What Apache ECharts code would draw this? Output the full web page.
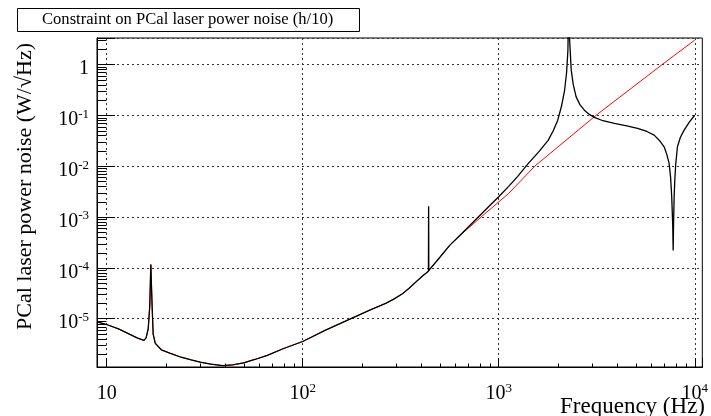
<!DOCTYPE html>
<html>
<head>
<meta charset="utf-8">
<script src="https://cdn.jsdelivr.net/npm/echarts@6/dist/echarts.min.js"></script>
<style>
html,body{margin:0;padding:0;background:#fff}
#chart{width:711px;height:416px}
</style>
</head>
<body>
<div id="chart"></div>
<script>
// frequency (Hz) / amplitude (W/sqrt(Hz))
var blackFreq = [8.93, 10, 11.5, 12.9, 14.3, 15.5, 15.9, 16.3, 16.6, 16.8, 17.06, 17.27, 17.7, 19, 21, 24, 27, 30, 34, 39, 44, 50, 57, 66, 80, 100, 130, 174, 220, 265, 290, 323, 350, 378, 410, 438, 439, 440, 500, 562, 650, 787, 885, 1000, 1124, 1250, 1413, 1600, 1787, 1900, 2000, 2090, 2168, 2220, 2254, 2280, 2300, 2344, 2400, 2483, 2600, 2735, 2900, 3076, 3400, 3890, 4500, 5106, 5700, 6210, 6600, 6980, 7200, 7400, 7530, 7630, 7720, 7760, 7800, 7850, 7910, 8000, 8160, 8450, 8830, 9400, 10000];
var blackVal  = [8.7e-6, 7.7e-6, 6.3e-6, 5.1e-6, 4.2e-6, 3.75e-6, 4.2e-6, 6.4e-6, 1.8e-5, 1.16e-4, 1.8e-5, 5e-6, 3.3e-6, 2.45e-6, 2.1e-6, 1.75e-6, 1.55e-6, 1.4e-6, 1.28e-6, 1.2e-6, 1.24e-6, 1.36e-6, 1.58e-6, 1.9e-6, 2.6e-6, 3.57e-6, 5.9e-6, 9.8e-6, 1.48e-5, 2.0e-5, 2.4e-5, 3.1e-5, 4.0e-5, 5.25e-5, 7.0e-5, 8.6e-5, 1.62e-3, 8.9e-5, 1.6e-4, 2.77e-4, 4.8e-4, 1e-3, 1.57e-3, 2.5e-3, 4.0e-3, 6.3e-3, 0.0112, 0.019, 0.032, 0.05, 0.08, 0.15, 0.31, 0.7, 1.9, 30, 3, 0.77, 0.4, 0.23, 0.16, 0.126, 0.104, 0.0906, 0.078, 0.069, 0.062, 0.055, 0.048, 0.0406, 0.032, 0.024, 0.017, 0.0113, 0.006, 2.5e-3, 7e-4, 2.2e-4, 8e-4, 2.5e-3, 5.3e-3, 0.011, 0.024, 0.037, 0.051, 0.074, 0.1];

var redFreq = [8.93, 10, 11.5, 12.9, 14.3, 15.5, 15.9, 16.3, 16.6, 16.8, 17.06, 17.27, 17.7, 19, 21, 24, 27, 30, 34, 39, 44, 50, 57, 66, 80, 100, 130, 174, 220, 265, 290, 323, 350, 378, 410, 438, 500, 562, 650, 813, 1124, 1528, 3141, 6839, 10000];
var redVal  = [8.7e-6, 7.7e-6, 6.3e-6, 5.1e-6, 4.2e-6, 3.75e-6, 4.2e-6, 6.4e-6, 1.8e-5, 1.16e-4, 1.8e-5, 5e-6, 3.3e-6, 2.45e-6, 2.1e-6, 1.75e-6, 1.55e-6, 1.4e-6, 1.28e-6, 1.2e-6, 1.24e-6, 1.36e-6, 1.58e-6, 1.9e-6, 2.6e-6, 3.57e-6, 5.9e-6, 9.8e-6, 1.48e-5, 2.0e-5, 2.4e-5, 3.1e-5, 4.0e-5, 5.25e-5, 7.0e-5, 8.6e-5, 1.6e-4, 2.77e-4, 4.7e-4, 1e-3, 2.9e-3, 0.01, 0.1, 1, 3.0];

var xMinorTicks = [20, 30, 40, 50, 60, 70, 80, 90, 200, 300, 400, 500, 600, 700, 800, 900, 2000, 3000, 4000, 5000, 6000, 7000, 8000, 9000];
var yMinorTicks = [2e-6, 3e-6, 4e-6, 5e-6, 6e-6, 7e-6, 8e-6, 9e-6,
  2e-5, 3e-5, 4e-5, 5e-5, 6e-5, 7e-5, 8e-5, 9e-5,
  2e-4, 3e-4, 4e-4, 5e-4, 6e-4, 7e-4, 8e-4, 9e-4,
  2e-3, 3e-3, 4e-3, 5e-3, 6e-3, 7e-3, 8e-3, 9e-3,
  0.02, 0.03, 0.04, 0.05, 0.06, 0.07, 0.08, 0.09,
  0.2, 0.3, 0.4, 0.5, 0.6, 0.7, 0.8, 0.9, 2, 3];

var X_MIN = 8.93, X_MAX = 10930;
var Y_MIN = 1.125e-6, Y_MAX = 3.3;

var FONT = 'Liberation Serif';

function zip(a, b) {
  var out = [];
  for (var i = 0; i < a.length; i++) out.push([a[i], b[i]]);
  return out;
}

function decadeLabel(v) {
  var l = Math.log10(v);
  var e = Math.round(l);
  if (Math.abs(l - e) > 1e-6) return '';
  if (e === 0) return '{b|1}';
  if (e === 1) return '{b|10}';
  return '{b|10}{sup|' + e + '}';
}

var labelRich = {
  b: {fontFamily: FONT, fontSize: 20, color: '#000', lineHeight: 24},
  sup: {fontFamily: FONT, fontSize: 13, color: '#000', verticalAlign: 'top', lineHeight: 24, padding: [0, 0, 12, 0]}
};

function minorTickSeries(data, horizontal, len) {
  return {
    type: 'custom',
    silent: true,
    clip: false,
    z: 4,
    data: data,
    renderItem: function (params, api) {
      var p = api.coord([api.value(0), api.value(1)]);
      var x = Math.round(p[0]) + 0.5, y = Math.round(p[1]) + 0.5;
      return {
        type: 'line',
        shape: horizontal ? {x1: x - 0.5, y1: y, x2: x + len, y2: y} : {x1: x, y1: y + 0.5, x2: x, y2: y - len},
        style: {stroke: '#000', lineWidth: 1}
      };
    }
  };
}

var chart = echarts.init(document.getElementById('chart'), null, {renderer: 'canvas'});
chart.setOption({
  animation: false,
  backgroundColor: '#fff',
  title: {
    text: 'Constraint on PCal laser power noise (h/10)',
    left: 17,
    top: 9,
    padding: [3, 26, 3, 25],
    borderColor: '#000',
    borderWidth: 1,
    backgroundColor: '#fff',
    textStyle: {fontFamily: FONT, fontSize: 16.6, lineHeight: 16, fontWeight: 'normal', color: '#000'}
  },
  grid: {
    left: 97, right: 6, top: 38, bottom: 49,
    show: true, borderColor: '#000', borderWidth: 1, backgroundColor: 'transparent'
  },
  xAxis: {
    type: 'log',
    logBase: 10,
    min: X_MIN,
    max: X_MAX,
    axisLine: {show: true, lineStyle: {color: '#000', width: 1}},
    axisTick: {show: true, inside: true, length: 9, lineStyle: {color: '#000'}},
    axisLabel: {margin: 15, formatter: decadeLabel, rich: labelRich},
    splitLine: {show: true, lineStyle: {color: '#333', type: [2, 3], width: 1}}
  },
  yAxis: {
    type: 'log',
    logBase: 10,
    min: Y_MIN,
    max: Y_MAX,
    axisLine: {show: true, lineStyle: {color: '#000', width: 1}},
    axisTick: {show: true, inside: true, length: 18, lineStyle: {color: '#000'}},
    axisLabel: {margin: 8, padding: [9, 0, 0, 0], formatter: decadeLabel, rich: labelRich},
    splitLine: {show: true, lineStyle: {color: '#333', type: [2, 3], width: 1}}
  },
  graphic: [
    {
      type: 'text', x: 25, y: 43, rotation: Math.PI / 2,
      style: {text: 'PCal laser power noise (W/\u221AHz)', fontFamily: FONT, fontSize: 22, fill: '#000', align: 'right', verticalAlign: 'middle'}
    },
    {
      type: 'text', x: 705, y: 407,
      style: {text: 'Frequency (Hz)', fontFamily: FONT, fontSize: 23, fill: '#000', align: 'right', verticalAlign: 'middle'}
    }
  ],
  series: [
    minorTickSeries(xMinorTicks.map(function (v) { return [v, Y_MIN]; }), false, 4),
    minorTickSeries(yMinorTicks.map(function (v) { return [X_MIN, v]; }), true, 9),
    {
      name: 'model',
      type: 'line',
      data: zip(redFreq, redVal),
      showSymbol: false,
      z: 2,
      lineStyle: {color: '#ff0000', width: 1}
    },
    {
      name: 'constraint',
      type: 'line',
      data: zip(blackFreq, blackVal),
      showSymbol: false,
      z: 3,
      lineStyle: {color: '#000', width: 1.3}
    }
  ]
});
</script>
</body>
</html>
